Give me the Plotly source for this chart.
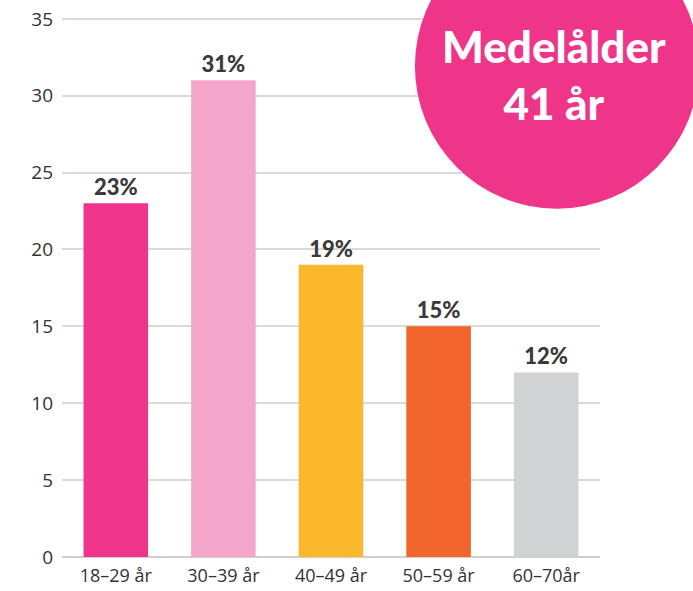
import plotly.graph_objects as go

categories = ["18–29 år", "30–39 år", "40–49 år", "50–59 år", "60–70år"]
values = [23, 31, 19, 15, 12]
colors = ["#EE3589", "#F4A6CA", "#FBB82D", "#F2652C", "#D1D2D4"]
badge_lines = ["Medelålder", "41 år"]

HEAVY = "Lato, Roboto, sans-serif"

fig = go.Figure(go.Bar(
    x=categories, y=values,
    marker=dict(color=colors, line=dict(width=0)),
    width=0.6,
    text=[f"{v}%" for v in values],
    textposition="outside",
    textfont=dict(family=HEAVY, size=22, color="#3a3a3a", weight=900),
    cliponaxis=False,
))

fig.update_layout(
    width=693, height=591,
    margin=dict(l=62, r=93, t=17, b=34),
    paper_bgcolor="white", plot_bgcolor="white",
    showlegend=False,
    bargap=0.4,
    xaxis=dict(showgrid=False, showline=False, ticks="", automargin=False,
               tickfont=dict(family="Open Sans, Noto Sans, sans-serif", size=18, color="#333333"),
               ticklabelstandoff=6),
    yaxis=dict(range=[0, 35.12], tickvals=[0, 5, 10, 15, 20, 25, 30, 35], automargin=False,
               showgrid=True, gridcolor="#D9D9D9", gridwidth=1.5,
               zeroline=True, zerolinecolor="#CFCFCF", zerolinewidth=2, showline=False, ticks="",
               tickfont=dict(family="Open Sans, Noto Sans, sans-serif", size=19, color="#333333"),
               ticklabelstandoff=8),
    shapes=[dict(type="circle", xref="x domain", yref="y domain",
                 x0=0.656, x1=1.184, y0=0.645, y1=1.173,
                 fillcolor="#EE3589", line=dict(width=0), layer="above")],
    annotations=[dict(xref="paper", yref="paper", x=0.915, y=0.894,
                      text=badge_lines[0] + "<br>" + badge_lines[1],
                      showarrow=False, align="center", xanchor="center", yanchor="middle",
                      font=dict(family=HEAVY, size=44, color="white", weight=900))],
)

fig.write_html("out.html", config={"displayModeBar": False},
               post_script="document.body.style.margin='0';")
